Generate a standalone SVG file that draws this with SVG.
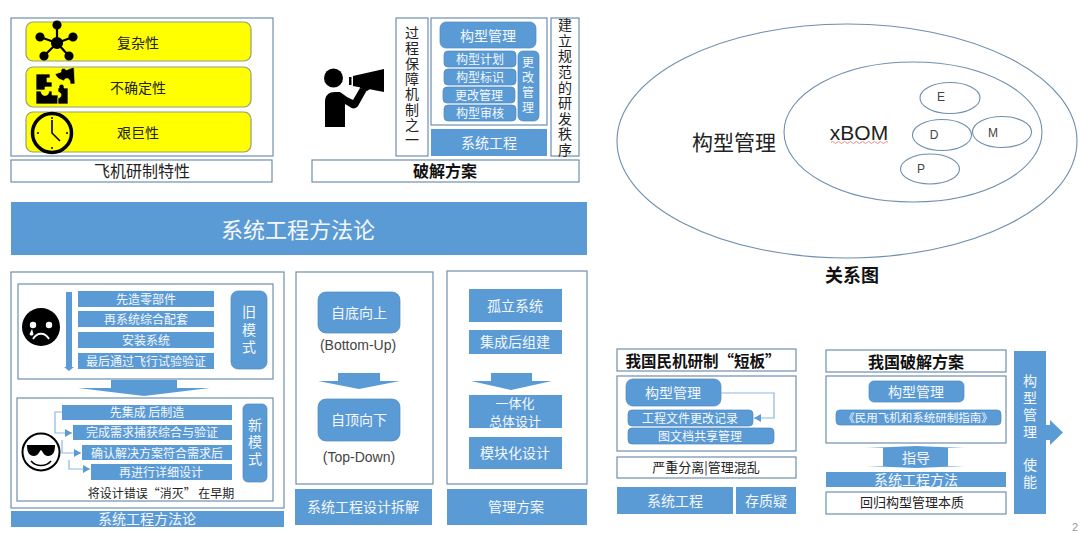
<svg xmlns="http://www.w3.org/2000/svg" width="1080" height="533" viewBox="0 0 1080 533">
<style>
text{font-family:"Noto Sans CJK SC","Liberation Sans",sans-serif;text-anchor:middle;dominant-baseline:central}
.v{writing-mode:vertical-rl}
.b{fill:#5b9bd5}
.bs{fill:#5b9bd5;stroke:#4a86bd;stroke-width:.7}
.o{fill:#fff;stroke:#6f8fae;stroke-width:1.2}
.y{fill:#ff0;stroke:#8f9f7f;stroke-width:1.2}
.w{fill:#f4f8fc}
.k{fill:#222}
.bold{font-weight:700;fill:#111}
.s11{font-size:11.5px}.s12{font-size:12px}.s13{font-size:13px}.s14{font-size:14px}.s16{font-size:16px}
.lat{font-family:"Liberation Sans",sans-serif;fill:#444}
.c{fill:none;stroke:#8db8e0;stroke-width:1.2}
.e{fill:none;stroke:#6f8fae;stroke-width:1.1}
</style>
<defs>
<marker id="ah" markerUnits="userSpaceOnUse" markerWidth="9" markerHeight="9" refX="7" refY="4" orient="auto"><path d="M0 0L7 4L0 8Z" fill="#5b9bd5"/></marker>
</defs>
<rect width="1080" height="533" fill="#fff"/>

<g id="traits">
<rect class="o" x="11" y="18" width="262" height="138"/>
<rect class="y" x="26" y="22" width="225" height="39" rx="7"/>
<rect class="y" x="26" y="67" width="225" height="40" rx="7"/>
<rect class="y" x="26" y="112" width="225" height="40" rx="7"/>
<g id="icon-network" fill="#000" stroke="#000" stroke-width="2.2">
<path d="M57 43L57 25M57 43L40 37M57 43L73 37M57 43L44 56M57 43L69 56"/>
<circle cx="57" cy="43" r="5"/><circle cx="57" cy="25" r="3.5"/><circle cx="40" cy="37" r="3.5"/><circle cx="73" cy="37" r="3.5"/><circle cx="44" cy="56" r="3.5"/><circle cx="69" cy="56" r="3.5"/>
</g>
<g id="icon-puzzle" fill="#000" stroke="#ff0" stroke-width=".7">
<path d="M36 74H50V78H47V82H52V87H45V90H36Z"/>
<path d="M36 91H41C41 97 49 97 49 91H52V95H58V104H36Z"/>
<path d="M58 104V98C62 98 62 92 58 92V88H59C58 83 65 83 64 88H68V104Z"/>
<path d="M55 74L61 72C60 68 65 67 66 70L74 67L75 84L70 84C71 78 65 77 64 81L59 79C57 77 56 76 55 74Z"/>
</g>
<g id="icon-clock">
<circle cx="52" cy="133" r="19.5" fill="none" stroke="#000" stroke-width="3.5"/>
<path d="M52 120V133L60 141" fill="none" stroke="#000" stroke-width="1.6"/>
<circle cx="52" cy="118" r="1" /><circle cx="52" cy="148" r="1"/><circle cx="38" cy="133" r="1"/><circle cx="67" cy="133" r="1"/>
</g>
<text class="s14 k" x="138" y="41.500">复杂性</text>
<text class="s14 k" x="138" y="86.500">不确定性</text>
<text class="s14 k" x="138" y="131.500">艰巨性</text>
<rect class="o" x="11" y="160" width="261" height="22"/>
<text class="s16 k" x="142" y="169.500">飞机研制特性</text>
</g>

<g id="solution">
<g id="icon-speaker" fill="#000">
<circle cx="333.500" cy="78" r="9.5"/>
<path d="M325 127V102C325 95 329 92 335 92H340L347 97L353 100L360 88L367 90L358 106C356 109 352 109 350 107L345 104V127Z"/>
<rect x="349" y="77" width="2.5" height="8"/>
<path d="M353 76L384 69V92L353 86Z"/>
<path d="M360 86L370 89L367 91L360 88Z"/>
</g>
<rect class="o" x="396" y="18" width="32" height="138"/>
<text class="s14 k v" x="412" y="87" letter-spacing="1.300">过程保障机制之一</text>
<rect class="o" x="431" y="18" width="116" height="107"/>
<rect class="bs" x="440" y="22" width="96" height="26" rx="6"/>
<text class="s14 w" x="488" y="34.500">构型管理</text>
<rect class="bs" x="444" y="51" width="72" height="16" rx="4"/>
<text class="s12 w" x="480" y="58.500">构型计划</text>
<rect class="bs" x="444" y="69" width="72" height="16" rx="4"/>
<text class="s12 w" x="480" y="76.500">构型标识</text>
<rect class="bs" x="443" y="87" width="72" height="16" rx="4"/>
<text class="s12 w" x="479" y="94.500">更改管理</text>
<rect class="bs" x="444" y="105" width="72" height="16" rx="4"/>
<text class="s12 w" x="480" y="112.500">构型审核</text>
<rect class="bs" x="518" y="51" width="21" height="70" rx="5"/>
<text class="s12 w v" x="528" y="86" letter-spacing="3">更改管理</text>
<rect class="b" x="431" y="129" width="116" height="27"/>
<text class="s14 w" x="489" y="142">系统工程</text>
<rect class="o" x="551" y="18" width="28" height="138"/>
<text class="s14 k v" x="565" y="88" letter-spacing="1.600">建立规范的研发秩序</text>
<rect class="o" x="312" y="160" width="267" height="22"/>
<text class="s16 bold" x="445" y="169.500">破解方案</text>
</g>

<g id="method-band">
<rect class="b" x="11" y="202" width="576" height="53"/>
<text class="w" font-size="22" x="298" y="227.500">系统工程方法论</text>
</g>

<g id="method">
<rect class="o" x="11" y="272" width="273" height="236"/>
<rect class="o" x="18" y="284" width="255" height="95"/>
<path class="b" d="M66 292H72V367H74L69 371L64 367H66Z"/>
<g id="face-sad">
<circle cx="41" cy="327" r="19" fill="#000"/>
<circle cx="33" cy="325" r="3.2" fill="#fff"/><circle cx="49" cy="325" r="3.2" fill="#fff"/>
<path d="M33 339C37 332 45 332 49 339" fill="none" stroke="#fff" stroke-width="1.8"/>
<path d="M32 329L29.500 334C30 336 33 336 33.500 334Z" fill="#fff"/>
</g>
<rect class="b" x="78" y="291" width="136" height="16"/>
<text class="s12 w" x="146" y="298.500">先造零部件</text>
<rect class="b" x="78" y="311" width="136" height="16"/>
<text class="s12 w" x="146" y="318.500">再系统综合配套</text>
<rect class="b" x="78" y="332" width="136" height="16"/>
<text class="s12 w" x="146" y="339.500">安装系统</text>
<rect class="b" x="78" y="353" width="136" height="16"/>
<text class="s12 w" x="146" y="360.500">最后通过飞行试验验证</text>
<rect class="bs" x="231" y="291" width="36" height="78" rx="7"/>
<text class="s14 w v" x="249" y="331" letter-spacing="3.500">旧模式</text>
<path class="b" d="M111 380H177V388H210L144 396L78 388H111Z"/>
<rect class="o" x="17" y="398" width="256" height="103"/>
<g id="face-cool">
<circle cx="41" cy="452" r="18.500" fill="#fff" stroke="#000" stroke-width="2"/>
<path d="M27 445H55C55 452 53 456 48 456C44 456 43 452 41 450C39 452 38 456 34 456C29 456 27 452 27 445Z" fill="#000"/>
<path d="M31 461C36 467 46 467 51 461" fill="none" stroke="#000" stroke-width="1.6"/>
</g>
<rect class="b" x="62" y="405" width="170" height="15"/>
<text class="s12 w" x="147" y="411.500">先集成 后制造</text>
<rect class="b" x="73" y="425" width="159" height="15"/>
<text class="s12 w" x="152" y="431.500">完成需求捕获综合与验证</text>
<rect class="b" x="82" y="445" width="150" height="15"/>
<text class="s12 w" x="157" y="452">确认解决方案符合需求后</text>
<rect class="b" x="91" y="464" width="141" height="16"/>
<text class="s12 w" x="161" y="471.500">再进行详细设计</text>
<rect class="bs" x="243" y="404" width="24" height="78" rx="5"/>
<text class="s14 w v" x="255" y="443.500" letter-spacing="3">新模式</text>
<text class="s12 k" x="161" y="492.500">将设计错误“消灭” 在早期</text>
<rect class="b" x="11" y="511" width="273" height="16"/>
<text class="s14 w" x="147" y="518">系统工程方法论</text>
</g>

<g id="decomposition">
<rect class="o" x="296" y="272" width="137" height="212"/>
<rect class="bs" x="318" y="292" width="82" height="41" rx="8"/>
<text class="s14 w" x="359" y="312">自底向上</text>
<text class="s14 lat" x="358" y="345">(Bottom-Up)</text>
<path class="b" d="M338 373H380V381H400L359 389L318 381H338Z"/>
<rect class="bs" x="318" y="399" width="82" height="42" rx="8"/>
<text class="s14 w" x="359" y="419">自顶向下</text>
<text class="s14 lat" x="359" y="457">(Top-Down)</text>
<rect class="b" x="295" y="489" width="137" height="36"/>
<text class="s14 w" x="363" y="506">系统工程设计拆解</text>
</g>

<g id="management">
<rect class="o" x="447" y="271" width="140" height="213"/>
<rect class="b" x="469" y="289" width="93" height="33"/>
<text class="s14 w" x="515" y="305">孤立系统</text>
<rect class="b" x="469" y="330" width="93" height="24"/>
<text class="s14 w" x="515" y="341">集成后组建</text>
<path class="b" d="M491 373H532V381H552L511 390L471 381H491Z"/>
<rect class="b" x="469" y="395" width="93" height="33"/>
<text class="s13 w" x="515" y="402">一体化</text>
<text class="s13 w" x="515" y="420.500">总体设计</text>
<rect class="b" x="469" y="437" width="93" height="32"/>
<text class="s14 w" x="515" y="452">模块化设计</text>
<rect class="b" x="447" y="489" width="140" height="36"/>
<text class="s14 w" x="516" y="506">管理方案</text>
</g>

<g id="relation">
<ellipse class="e" cx="847" cy="141" rx="230" ry="117"/>
<ellipse class="e" cx="913" cy="132" rx="129" ry="70"/>
<ellipse class="e" cx="950" cy="98" rx="30" ry="15.500"/>
<ellipse class="e" cx="942" cy="135" rx="29.500" ry="15.500"/>
<ellipse class="e" cx="1002" cy="132" rx="29.500" ry="15.500"/>
<ellipse class="e" cx="930" cy="169" rx="29.500" ry="15"/>
<text class="k" font-size="21" x="734" y="141">构型管理</text>
<text class="lat" font-size="21" style="fill:#222" x="859" y="132.500">xBOM</text>
<path d="M831 142.500q1.500-2 3 0t3 0t3 0t3 0t3 0t3 0t3 0t3 0t3 0t3 0t3 0t3 0t3 0t3 0t3 0t3 0t3 0t3 0t3 0" fill="none" stroke="#e07070" stroke-width=".8"/>
<text class="s12 lat" x="941" y="97">E</text>
<text class="s12 lat" x="934" y="135">D</text>
<text class="s12 lat" x="993" y="133">M</text>
<text class="s12 lat" x="921" y="169">P</text>
<text class="bold" font-size="18" x="852" y="274">关系图</text>
</g>

<g id="gap">
<rect class="o" x="617" y="349" width="179" height="22"/>
<text class="bold" font-size="15.500" x="703" y="359.500">我国民机研制“短板”</text>
<rect class="o" x="617" y="376" width="179" height="75"/>
<rect class="bs" x="626" y="379" width="95" height="27" rx="7"/>
<text class="s14 w" x="673" y="392">构型管理</text>
<rect class="bs" x="628" y="410" width="125" height="16" rx="4"/>
<text class="s12 w" x="690" y="417.500">工程文件更改记录</text>
<rect class="bs" x="628" y="428" width="146" height="16" rx="4"/>
<text class="s12 w" x="700" y="435.500">图文档共享管理</text>
<rect class="o" x="617" y="457" width="179" height="21"/>
<text class="s13 k" x="706" y="466.500">严重分离|管理混乱</text>
<rect class="b" x="617" y="487" width="116" height="27"/>
<text class="s14 w" x="675" y="500">系统工程</text>
<rect class="b" x="736" y="487" width="60" height="27"/>
<text class="s14 w" x="766" y="500">存质疑</text>
</g>

<g id="plan">
<rect class="o" x="826" y="350" width="180" height="22"/>
<text class="s16 bold" x="916" y="360.500">我国破解方案</text>
<rect class="o" x="826" y="376" width="180" height="67"/>
<rect class="bs" x="869" y="381" width="95" height="21" rx="5"/>
<text class="s14 w" x="916" y="391">构型管理</text>
<rect class="bs" x="836" y="410" width="165" height="15" rx="4"/>
<text class="s11 w" x="918" y="417">《民用飞机和系统研制指南》</text>
<path class="b" d="M866 448L916 446L965 448H948V466H965L916 468L866 466H883V448Z"/>
<text class="s14 w" x="916" y="456.500">指导</text>
<rect class="b" x="826" y="472" width="180" height="15"/>
<text class="s14 w" x="916" y="479">系统工程方法</text>
<rect class="o" x="826" y="492" width="180" height="22"/>
<text class="s13 k" x="912" y="501.500">回归构型管理本质</text>
<rect class="b" x="1014" y="351" width="32" height="163"/>
<text class="s14 w v" x="1030" y="408" letter-spacing="3">构型管理</text>
<text class="s14 w v" x="1030" y="475" letter-spacing="3">使能</text>
<path class="b" d="M1046 425H1050V420L1063 432.500L1050 445V440H1046Z"/>
</g>

<text x="1075" y="526.500" font-size="11" style="fill:#999;font-family:'Liberation Sans',sans-serif">2</text>

<g id="connectors">
<path class="c" d="M62 412H55V433H72" marker-end="url(#ah)"/>
<path class="c" d="M62 440V453H81" marker-end="url(#ah)"/>
<path class="c" d="M69 460V469H90" marker-end="url(#ah)"/>
<path class="c" d="M721 393H774V418H754" marker-end="url(#ah)"/>
</g>
</svg>
